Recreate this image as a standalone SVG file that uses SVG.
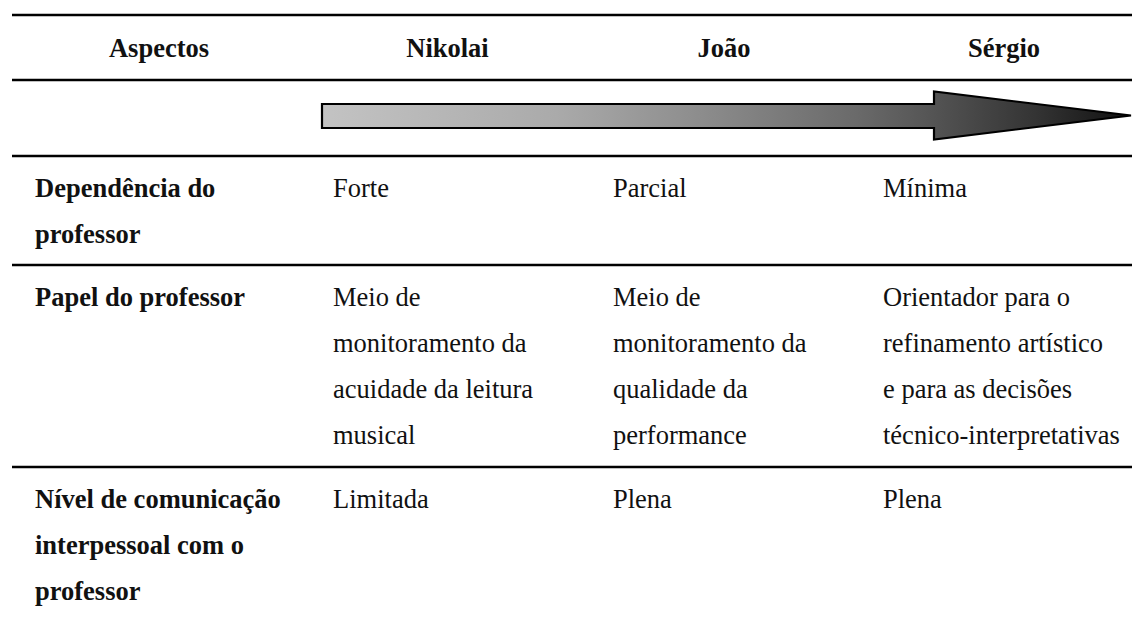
<svg xmlns="http://www.w3.org/2000/svg" width="1132" height="619" viewBox="0 0 1132 619">
<defs>
<linearGradient id="g" x1="322" y1="0" x2="1132" y2="0" gradientUnits="userSpaceOnUse">
<stop offset="0" stop-color="#c3c3c3"/>
<stop offset="0.29" stop-color="#aaaaaa"/>
<stop offset="0.47" stop-color="#8c8c8c"/>
<stop offset="0.66" stop-color="#6a6a6a"/>
<stop offset="0.75" stop-color="#555555"/>
<stop offset="0.88" stop-color="#343434"/>
<stop offset="1" stop-color="#101010"/>
</linearGradient>
<style>
text{font-family:"Liberation Serif","Times New Roman",serif;font-size:26.5px;fill:#111}
.b{font-weight:bold}
.h{font-weight:bold;text-anchor:middle}
.rule{stroke:#000;stroke-width:2.6;fill:none}
</style>
</defs>
<rect width="1132" height="619" fill="#fff"/>
<g id="rules">
<line class="rule" x1="12" y1="15" x2="1132" y2="15"/>
<line class="rule" x1="12" y1="80" x2="1132" y2="80"/>
<line class="rule" x1="12" y1="156" x2="1132" y2="156"/>
<line class="rule" x1="12" y1="265" x2="1132" y2="265"/>
<line class="rule" x1="12" y1="467" x2="1132" y2="467"/>
</g>
<g id="header">
<text class="h" x="159" y="57">Aspectos</text>
<text class="h" x="447.5" y="57">Nikolai</text>
<text class="h" x="724" y="57">João</text>
<text class="h" x="1004" y="57">Sérgio</text>
</g>
<g id="arrow">
<polygon points="322,104 934,104 934,91.5 1131,115.5 934,139.5 934,128 322,128" fill="url(#g)" stroke="#000" stroke-width="2.2" stroke-linejoin="miter"/>
</g>
<g id="row-dependencia">
<text class="b" x="35" y="197">Dependência do</text>
<text class="b" x="35" y="243">professor</text>
<text x="333" y="197">Forte</text>
<text x="613" y="197">Parcial</text>
<text x="883" y="197">Mínima</text>
</g>
<g id="row-papel">
<text class="b" x="35" y="306">Papel do professor</text>
<text x="333" y="306">Meio de</text>
<text x="333" y="352">monitoramento da</text>
<text x="333" y="398">acuidade da leitura</text>
<text x="333" y="444">musical</text>
<text x="613" y="306">Meio de</text>
<text x="613" y="352">monitoramento da</text>
<text x="613" y="398">qualidade da</text>
<text x="613" y="444">performance</text>
<text x="883" y="306">Orientador para o</text>
<text x="883" y="352">refinamento artístico</text>
<text x="883" y="398">e para as decisões</text>
<text x="883" y="444">técnico-interpretativas</text>
</g>
<g id="row-nivel">
<text class="b" x="35" y="508">Nível de comunicação</text>
<text class="b" x="35" y="554">interpessoal com o</text>
<text class="b" x="35" y="600">professor</text>
<text x="333" y="508">Limitada</text>
<text x="613" y="508">Plena</text>
<text x="883" y="508">Plena</text>
</g>
</svg>
